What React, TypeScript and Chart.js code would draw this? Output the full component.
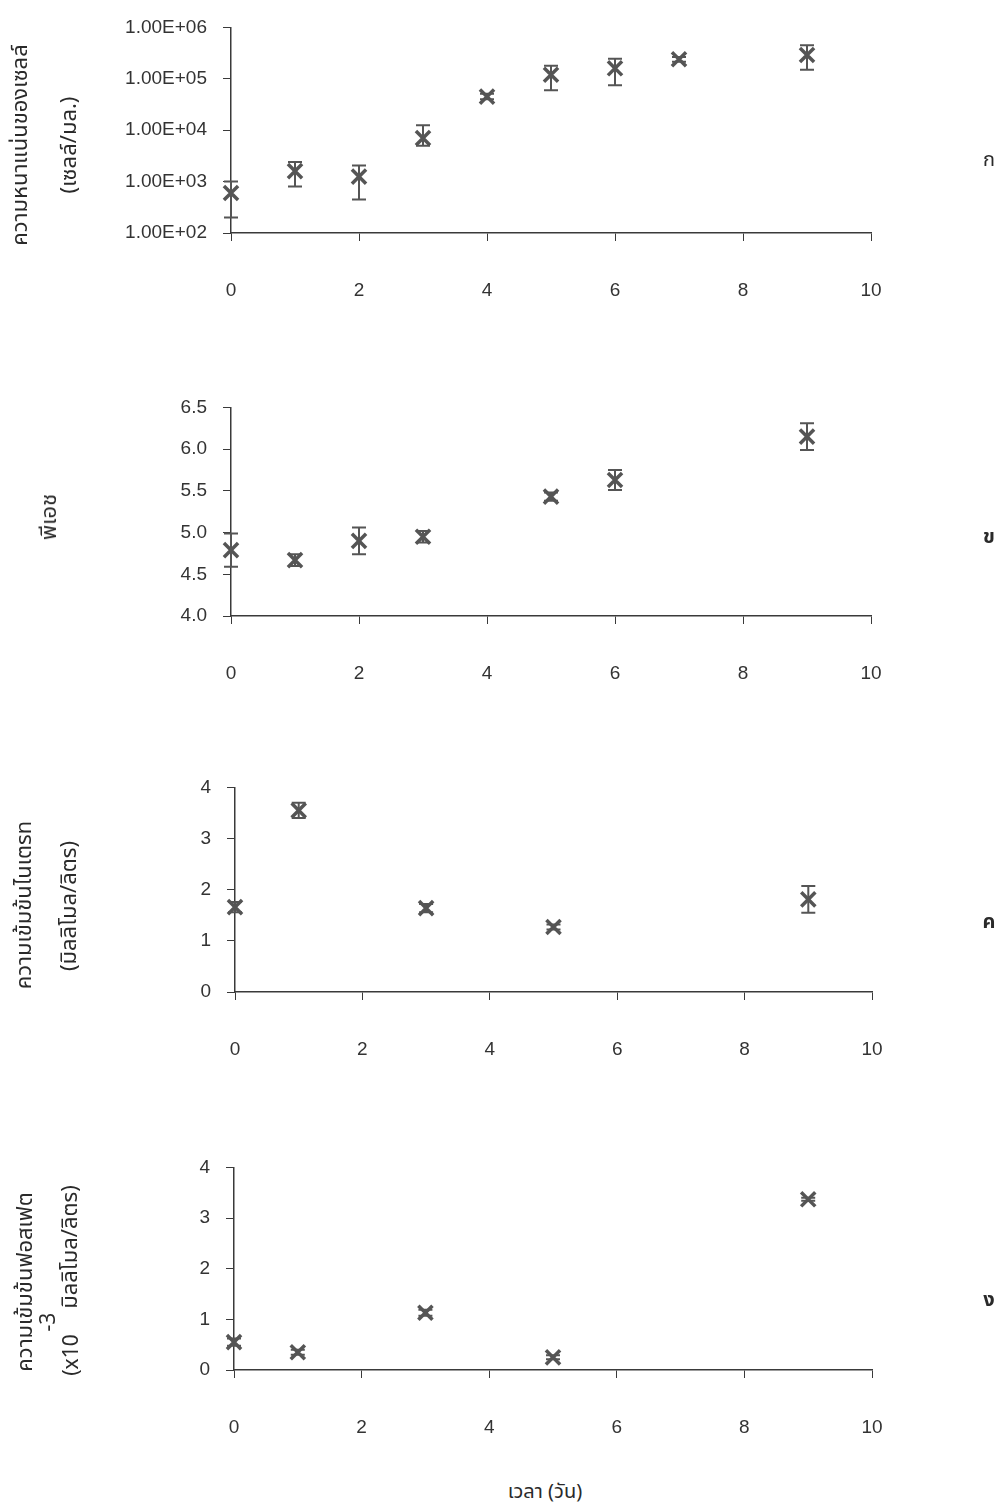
import React, { useEffect, useRef } from "react";
import { Chart, registerables } from "chart.js";

Chart.register(...registerables);

// ---------- data ----------
const xTickValues = [0, 2, 4, 6, 8, 10];

// panel ก : cell density (cells/mL), log scale
const cellDays = [0, 1, 2, 3, 4, 5, 6, 7, 9];
const cellMean = [600, 1600, 1250, 7000, 45000, 120000, 160000, 240000, 290000];
const cellLow = [200, 800, 450, 5000, 40000, 60000, 75000, 215000, 150000];
const cellHigh = [1000, 2400, 2050, 12500, 51000, 180000, 245000, 265000, 450000];
const cellTicks = [100, 1000, 10000, 100000, 1000000];
const cellTickLabels = ["1.00E+02", "1.00E+03", "1.00E+04", "1.00E+05", "1.00E+06"];

// panel ข : pH
const phDays = [0, 1, 2, 3, 5, 6, 9];
const phMean = [4.79, 4.67, 4.9, 4.95, 5.43, 5.63, 6.15];
const phSd = [0.2, 0.07, 0.16, 0.07, 0.05, 0.12, 0.16];
const phTicks = [4.0, 4.5, 5.0, 5.5, 6.0, 6.5];
const phTickLabels = ["4.0", "4.5", "5.0", "5.5", "6.0", "6.5"];

// panel ค : nitrate (mmol/L)
const nitrateDays = [0, 1, 3, 5, 9];
const nitrateMean = [1.66, 3.55, 1.64, 1.27, 1.81];
const nitrateSd = [0.1, 0.15, 0.08, 0.05, 0.26];

// panel ง : phosphate (x10^-3 mmol/L)
const phosphateDays = [0, 1, 3, 5, 9];
const phosphateMean = [0.55, 0.35, 1.13, 0.25, 3.37];
const phosphateSd = [0.07, 0.05, 0.06, 0.04, 0.03];

const concTicks = [0, 1, 2, 3, 4];
const concTickLabels = ["0", "1", "2", "3", "4"];

// ---------- styling ----------
const MARK = "#555555";
const AXIS = "#3a3a3a";
const TICK_FONT = { family: "'Liberation Sans', Arial, sans-serif", size: 19 };
const THAI_FONT = "'Noto Sans Thai', 'Loma', 'Garuda', 'Noto Sans', 'DejaVu Sans', sans-serif";
const PAGE_W = 998;

type PanelProps = {
  top: number;
  height: number;
  plotLeft: number;
  plotRight: number;
  plotTop: number;
  plotBottom: number;
  log?: boolean;
  yMin: number;
  yMax: number;
  yTicks: number[];
  yTickLabels: string[];
  days: number[];
  mean: number[];
  low: number[];
  high: number[];
};

function Panel(p: PanelProps) {
  const ref = useRef<HTMLCanvasElement | null>(null);

  useEffect(() => {
    if (!ref.current) return;
    const errorBars = {
      id: "errorBars",
      afterDatasetsDraw(chart: any) {
        const { ctx } = chart;
        const xs = chart.scales.x;
        const ys = chart.scales.y;
        ctx.save();
        ctx.strokeStyle = MARK;
        ctx.lineWidth = 2;
        p.days.forEach((d, i) => {
          const px = xs.getPixelForValue(d);
          const yl = ys.getPixelForValue(p.low[i]);
          const yh = ys.getPixelForValue(p.high[i]);
          ctx.beginPath();
          ctx.moveTo(px, yl);
          ctx.lineTo(px, yh);
          ctx.moveTo(px - 7, yl);
          ctx.lineTo(px + 7, yl);
          ctx.moveTo(px - 7, yh);
          ctx.lineTo(px + 7, yh);
          ctx.stroke();
        });
        ctx.restore();
      },
    };

    const chart = new Chart(ref.current, {
      type: "scatter",
      data: {
        datasets: [
          {
            data: p.days.map((d, i) => ({ x: d, y: p.mean[i] })),
            pointStyle: "crossRot",
            pointRadius: 10,
            pointBorderWidth: 3.5,
            borderColor: MARK,
            backgroundColor: MARK,
            showLine: false,
            clip: false as any,
          },
        ],
      },
      options: {
        animation: false,
        responsive: false,
        events: [],
        layout: {
          padding: {
            left: 0,
            right: PAGE_W - p.plotRight,
            top: p.plotTop - p.top,
            bottom: 0,
          },
        },
        plugins: {
          legend: { display: false },
          tooltip: { enabled: false },
        },
        scales: {
          x: {
            type: "linear",
            min: 0,
            max: 10,
            afterBuildTicks: (s: any) => {
              s.ticks = xTickValues.map((v) => ({ value: v }));
            },
            afterFit: (s: any) => {
              s.height = p.top + p.height - p.plotBottom;
            },
            ticks: {
              font: TICK_FONT,
              color: "#333",
              padding: 38,
              maxRotation: 0,
              callback: (v: any) => String(v),
            },
            grid: {
              drawOnChartArea: false,
              drawTicks: true,
              tickLength: 8,
              color: AXIS,
              lineWidth: 1,
            },
            border: { display: true, color: AXIS, width: 1.5 },
          },
          y: {
            type: p.log ? "logarithmic" : "linear",
            min: p.yMin,
            max: p.yMax,
            afterBuildTicks: (s: any) => {
              s.ticks = p.yTicks.map((v) => ({ value: v }));
            },
            afterFit: (s: any) => {
              s.width = p.plotLeft;
            },
            ticks: {
              font: TICK_FONT,
              color: "#333",
              padding: 16,
              callback: (v: any) => {
                const idx = p.yTicks.findIndex((t) => Math.abs(t - Number(v)) < 1e-9 * Math.max(1, Math.abs(t)));
                return idx >= 0 ? p.yTickLabels[idx] : "";
              },
            },
            grid: {
              drawOnChartArea: false,
              drawTicks: true,
              tickLength: 8,
              color: AXIS,
              lineWidth: 1,
            },
            border: { display: true, color: AXIS, width: 1.5 },
          },
        },
      } as any,
      plugins: [errorBars],
    });
    return () => chart.destroy();
  }, []);

  return (
    <canvas
      ref={ref}
      width={PAGE_W}
      height={p.height}
      style={{ position: "absolute", left: 0, top: p.top, width: PAGE_W, height: p.height }}
    />
  );
}

function VText(props: { x: number; y: number; text: string; size?: number }) {
  return (
    <div
      style={{
        position: "absolute",
        left: props.x,
        top: props.y,
        transform: "translate(-50%, -50%) rotate(-90deg)",
        whiteSpace: "nowrap",
        fontFamily: THAI_FONT,
        fontSize: props.size ?? 22,
        color: "#2a2a2a",
        lineHeight: 1,
      }}
    >
      {props.text}
    </div>
  );
}

function HText(props: { x: number; y: number; text: string; size?: number; weight?: number }) {
  return (
    <div
      style={{
        position: "absolute",
        left: props.x,
        top: props.y,
        transform: "translate(-50%, -50%)",
        whiteSpace: "nowrap",
        fontFamily: THAI_FONT,
        fontSize: props.size ?? 20,
        fontWeight: props.weight ?? 400,
        color: "#2a2a2a",
        lineHeight: 1,
      }}
    >
      {props.text}
    </div>
  );
}

export default function App() {
  const sd = (m: number[], s: number[], sign: number) => m.map((v, i) => v + sign * s[i]);
  return (
    <div
      style={{
        position: "absolute",
        left: 0,
        top: 0,
        width: PAGE_W,
        height: 1505,
        background: "#ffffff",
        overflow: "hidden",
      }}
    >
      <Panel
        top={0}
        height={320}
        plotLeft={231}
        plotRight={871}
        plotTop={24}
        plotBottom={233}
        log
        yMin={100}
        yMax={1000000}
        yTicks={cellTicks}
        yTickLabels={cellTickLabels}
        days={cellDays}
        mean={cellMean}
        low={cellLow}
        high={cellHigh}
      />
      <Panel
        top={380}
        height={320}
        plotLeft={231}
        plotRight={871}
        plotTop={402}
        plotBottom={616}
        yMin={4}
        yMax={6.5}
        yTicks={phTicks}
        yTickLabels={phTickLabels}
        days={phDays}
        mean={phMean}
        low={sd(phMean, phSd, -1)}
        high={sd(phMean, phSd, 1)}
      />
      <Panel
        top={760}
        height={320}
        plotLeft={235}
        plotRight={872}
        plotTop={785}
        plotBottom={992}
        yMin={0}
        yMax={4}
        yTicks={concTicks}
        yTickLabels={concTickLabels}
        days={nitrateDays}
        mean={nitrateMean}
        low={sd(nitrateMean, nitrateSd, -1)}
        high={sd(nitrateMean, nitrateSd, 1)}
      />
      <Panel
        top={1140}
        height={320}
        plotLeft={234}
        plotRight={872}
        plotTop={1165}
        plotBottom={1370}
        yMin={0}
        yMax={4}
        yTicks={concTicks}
        yTickLabels={concTickLabels}
        days={phosphateDays}
        mean={phosphateMean}
        low={sd(phosphateMean, phosphateSd, -1)}
        high={sd(phosphateMean, phosphateSd, 1)}
      />

      {/* axis titles */}
      <VText x={21} y={145} text="ความหนาแน่นของเซลล์" />
      <VText x={70} y={145} text="(เซลล์/มล.)" />
      <VText x={50} y={517} text="พีเอช" />
      <VText x={25} y={905} text="ความเข้มข้นไนเตรท" />
      <VText x={70} y={906} text="(มิลลิโมล/ลิตร)" />
      <VText x={26} y={1282} text="ความเข้มข้นฟอสเฟต" />
      <VText x={48} y={1322} text="-3" size={21} />
      <VText x={71} y={1355} text="(x10" size={21} />
      <VText x={71} y={1247} text="มิลลิโมล/ลิตร)" />
      <HText x={545} y={1492} text="เวลา (วัน)" />

      {/* panel letters */}
      <HText x={989} y={160} text="ก" size={20} />
      <HText x={989} y={537} text="ข" size={20} weight={700} />
      <HText x={989} y={922} text="ค" size={20} weight={700} />
      <HText x={989} y={1300} text="ง" size={20} weight={700} />
    </div>
  );
}
